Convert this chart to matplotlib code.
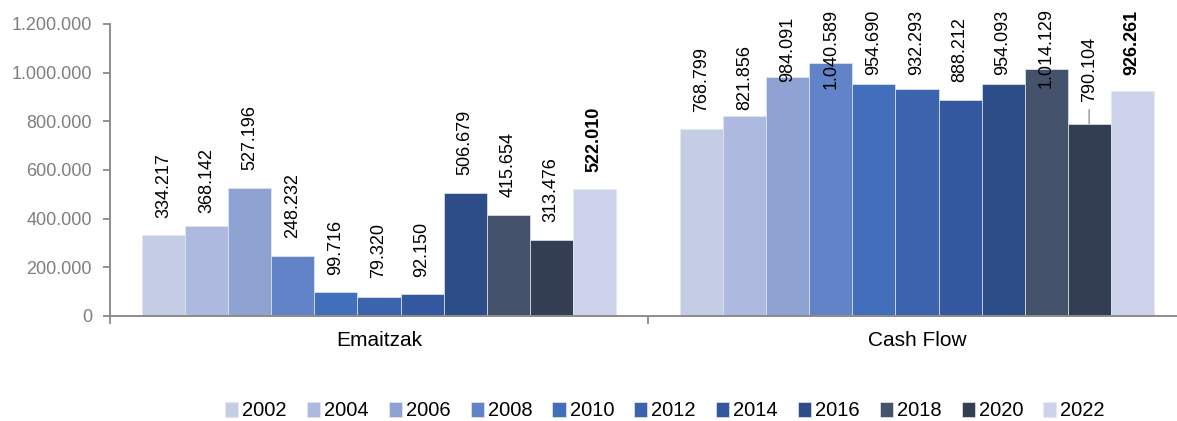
import matplotlib
matplotlib.use("Agg")
import matplotlib.pyplot as plt
import numpy as np

plt.rcParams["font.family"] = ["Liberation Sans", "DejaVu Sans"]

categories = ["Emaitzak", "Cash Flow"]
years = ["2002", "2004", "2006", "2008", "2010", "2012",
         "2014", "2016", "2018", "2020", "2022"]
emaitzak = [334217, 368142, 527196, 248232, 99716, 79320,
            92150, 506679, 415654, 313476, 522010]
cash_flow = [768799, 821856, 984091, 1040589, 954690, 932293,
             888212, 954093, 1014129, 790104, 926261]
colors = ["#c5cde6", "#adb9de", "#8fa3d3", "#6283c8", "#416fbc", "#3c64ad",
          "#33589f", "#2d4d89", "#44536b", "#333e52", "#ccd3ea"]

# label gap above each bar top, in pixels (negative = label sits over the bar)
label_gap_px = [
    [17, 13, 18, 18, 17, 19, 17, 18, 18, 18, 17],
    [17, 6, -5, -26, 9, 14, 18, 9, -19, 22, 16],
]
leader_lines = {(1, 9)}

def fmt(v):
    return f"{v:,}".replace(",", ".")

W, H, DPI = 1177, 421, 100
fig = plt.figure(figsize=(W / DPI, H / DPI), dpi=DPI)
ax = fig.add_axes([110 / W, (H - 316) / H, 1076 / W, 292 / H])

n = len(years)
width = 0.88 / n
x = np.arange(len(categories))
series = np.array([emaitzak, cash_flow]).T  # year x category

for i in range(n):
    pos = x + (i - (n - 1) / 2) * width
    ax.bar(pos, series[i], width=width, color=colors[i], label=years[i],
           edgecolor="#e3e7f1", linewidth=0.5)
    for c in range(len(categories)):
        v = series[i][c]
        gap = label_gap_px[c][i] * 72 / DPI
        ax.annotate(fmt(v), xy=(pos[c], v), xytext=(0, gap),
                    textcoords="offset points", rotation=90,
                    ha="center", va="bottom", fontsize=13, color="black",
                    fontweight="bold" if i == n - 1 else "normal")
        if (c, i) in leader_lines:
            ax.annotate("", xy=(pos[c], v), xytext=(0, (label_gap_px[c][i] - 8) * 72 / DPI),
                        textcoords="offset points",
                        arrowprops=dict(arrowstyle="-", color="#a6a6a6", lw=1.2,
                                        shrinkA=0, shrinkB=0))

ax.set_xlim(-0.5, 1.5)
ax.set_ylim(0, 1200000)
ax.set_yticks(np.arange(0, 1200001, 200000))
ax.set_yticklabels([fmt(int(t)) for t in np.arange(0, 1200001, 200000)])
ax.tick_params(axis="y", colors="#7f7f7f", labelsize=13, length=5, width=1.2,
               pad=8, direction="out")
ax.tick_params(axis="y", labelcolor="#7f7f7f")

ax.set_xticks([-0.5, 0.5, 1.5])
ax.set_xticklabels([])
ax.set_xticks(x, minor=True)
ax.set_xticklabels(categories, minor=True)
ax.tick_params(axis="x", which="major", length=6, width=1.2, color="#7f7f7f")
ax.tick_params(axis="x", which="minor", length=0, labelsize=15,
               labelcolor="black", pad=11)

for s in ["top", "right"]:
    ax.spines[s].set_visible(False)
for s in ["left", "bottom"]:
    ax.spines[s].set_color("#8c8c8c")
    ax.spines[s].set_linewidth(1.4)

fig.legend(loc="center", bbox_to_anchor=(665 / W, (H - 411) / H), ncol=n,
           frameon=False, fontsize=14.5, handlelength=0.65, handleheight=0.7,
           handletextpad=0.2, columnspacing=1.0, borderaxespad=0)

fig.savefig("out.png", dpi=DPI)
